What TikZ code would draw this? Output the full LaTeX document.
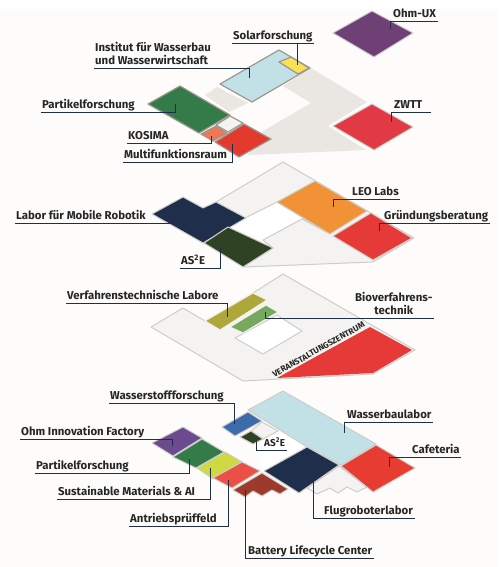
\documentclass[tikz,border=0pt]{standalone}
\usepackage{fontspec}
\setmainfont{Fira Sans}
\definecolor{paper}{HTML}{FDFCFB}
\definecolor{floorc}{HTML}{F5F3F1}
\definecolor{hatchc}{HTML}{EAE6E1}
\definecolor{edgec}{HTML}{CFCDCA}
\definecolor{stonec}{HTML}{9C9890}
\definecolor{navyc}{HTML}{1F2E4B}
\definecolor{icec}{HTML}{C2E1E6}
\definecolor{mossc}{HTML}{2F4324}
\definecolor{redc}{HTML}{E63A39}
\definecolor{plumc}{HTML}{6F4076}
\definecolor{zwttc}{HTML}{E23A45}
\definecolor{sunc}{HTML}{FBE05A}
\definecolor{forestc}{HTML}{357B49}
\definecolor{salmonc}{HTML}{EE7755}
\definecolor{brickc}{HTML}{E23B2E}
\definecolor{orangec}{HTML}{F29237}
\definecolor{olivec}{HTML}{ADA73C}
\definecolor{leafc}{HTML}{76A95D}
\definecolor{bluec}{HTML}{3B6BA8}
\definecolor{cafec}{HTML}{E63C31}
\definecolor{violetc}{HTML}{6B4B8E}
\definecolor{limec}{HTML}{CFD944}
\definecolor{coralc}{HTML}{EC4F45}
\definecolor{rustc}{HTML}{9E3A2C}
\tikzset{
  room/.style={draw=edgec,line width=1pt,line join=round},
  roomold/.style={draw=stonec,line width=1.2pt,line join=round},
  lab/.style={font=\fontsize{11.4}{13}\selectfont\bfseries,text=black!85,inner ysep=0pt,inner xsep=1.5pt,text height=8pt,text depth=3.5pt,anchor=south west},
  leader/.style={draw=navyc,line width=0.8pt}
}
\begin{document}
\begin{tikzpicture}[x=1pt,y=-1pt]
\useasboundingbox (0,0) rectangle (498,567);
\fill[paper] (0,9) rectangle (498,567);

\fill[hatchc] (283,86) -- (311,68) -- (367,102) -- (328,126) -- (366,150) -- (248,155) -- (263,131) -- (311,103) -- cycle;
\fill[hatchc] (205,95) -- (217,87) -- (248,103) -- (229,112) -- cycle;
\draw[room,fill=plumc] (333,33) -- (372,11) -- (413,33) -- (374,57) -- cycle;
\draw[room,fill=zwttc] (333,126) -- (372,104) -- (413,127) -- (374,150) -- cycle;
\draw[roomold,fill=icec] (220,84) -- (279,50) -- (310,68) -- (252,102) -- cycle;
\draw[roomold,fill=sunc] (279,62) -- (291,57) -- (309,68) -- (298,74) -- cycle;
\draw[roomold,fill=forestc] (148,104) -- (180,86) -- (230,115) -- (199,133) -- cycle;
\draw[roomold,fill=floorc] (216,125) -- (230,116) -- (243,123) -- (228,132) -- cycle;
\draw[roomold,fill=salmonc] (201,134) -- (216,126) -- (227,133) -- (213,141) -- cycle;
\draw[roomold,fill=brickc] (215,142) -- (244,124) -- (271,139) -- (239,157) -- cycle;

\fill[white] (245,218) -- (277,202) -- (302,219) -- (263,240) -- (235,227) -- cycle;
\draw[room,fill=floorc] (283,162) -- (414,238) -- (373,262) -- (243,267) -- (273,248) -- (263,240) -- (302,219) -- (330,234) -- (277,202) -- (245,218) -- (216,202) -- cycle;
\draw[room,fill=navyc] (152,214) -- (183,197) -- (203,208) -- (216,202) -- (246,218) -- (203,243) -- cycle;
\draw[room,fill=mossc] (204,243) -- (228,227) -- (273,248) -- (243,267) -- cycle;
\draw[room,fill=orangec] (277,202) -- (315,181) -- (367,211) -- (330,234) -- cycle;
\draw[room,fill=redc] (333,236) -- (371,213) -- (412,238) -- (373,260) -- cycle;

\draw[room,fill=floorc] (283,274) -- (415,350) -- (373,374) -- (243,381) -- (151,327) -- (183,308) -- (205,321) -- (253,293) -- cycle;
\draw[room,fill=white] (277,315) -- (302,331) -- (263,354) -- (235,338) -- cycle;
\draw[draw=floorc,line width=1pt,fill=olivec] (205,321) -- (253,293) -- (267,300) -- (220,330) -- cycle;
\draw[draw=floorc,line width=1pt,fill=leafc] (230,327) -- (266,305) -- (278,312) -- (243,333) -- cycle;
\fill[redc] (277,378) -- (370,327) -- (412,350) -- (373,373) -- cycle;
\node[font=\fontsize{8.4}{9}\selectfont\bfseries,text=black!85,inner sep=0pt,rotate=29.2] (zentrum) at (318.5,349.5) {VERANSTALTUNGSZENTRUM};

\fill[white] (278,430) -- (307,447) -- (264,471) -- (253,444) -- cycle;
\draw[room,fill=icec] (248,410) -- (283,391) -- (376,444) -- (341,465) -- (307,447) -- cycle;
\draw[room,fill=floorc] (339,466) -- (367,487) -- (357,492) -- (347,487) -- (338,493) -- (330,488) -- (317,494) -- (307,488) -- cycle;
\draw[room,fill=navyc] (264,471) -- (307,447) -- (339,465) -- (299,493) -- cycle;
\draw[room,fill=bluec] (222,427) -- (248,412) -- (262,421) -- (235,436) -- cycle;
\draw[room,fill=floorc] (251,431) -- (262,422) -- (278,431) -- (263,439) -- cycle;
\draw[room,fill=mossc] (240,437) -- (251,431) -- (263,439) -- (253,444) -- cycle;
\draw[room,fill=cafec] (341,466) -- (376,445) -- (415,468) -- (373,492) -- cycle;
\draw[room,fill=violetc] (152,443) -- (183,427) -- (202,438) -- (173,456) -- cycle;
\draw[room,fill=forestc] (173,457) -- (202,439) -- (224,452) -- (196,468) -- cycle;
\draw[room,fill=limec] (197,468) -- (225,452) -- (242,462) -- (213,479) -- cycle;
\draw[room,fill=coralc] (213,478) -- (242,462) -- (260,471) -- (232,488) -- cycle;
\draw[room,fill=rustc] (233,490) -- (262,473) -- (288,489) -- (280,494) -- (272,490) -- (262,496) -- (253,491) -- (245,497) -- cycle;

\node[lab] (ohmux) at (391.5,21) {Ohm-UX};
\coordinate (ohmux end) at (390,29);
\draw[leader] (ohmux end) |- (ohmux.south east);
\node[lab] (solar) at (231.5,43) {Solarforschung};
\coordinate (solar end) at (297,65);
\draw[leader] (solar end) |- (solar.south east);
\draw[leader] (solar end) |- (solar.south west);
\node[lab,align=left] (wasserbau) at (93.5,68) {Institut für Wasserbau\\und Wasserwirtschaft};
\coordinate (wasserbau end) at (249,78);
\draw[leader] (wasserbau end) |- (wasserbau.south west);
\node[lab] (partikel) at (40.5,112) {Partikelforschung};
\coordinate (partikel end) at (175,104);
\draw[leader] (partikel end) |- (partikel.south west);
\node[lab] (kosima) at (126.5,143) {KOSIMA};
\coordinate (kosima end) at (211,136);
\draw[leader] (kosima end) |- (kosima.south west);
\node[lab] (multi) at (122.5,162) {Multifunktionsraum};
\coordinate (multi end) at (232,144);
\draw[leader] (multi end) |- (multi.south west);
\node[lab] (zwtt) at (392.5,112) {ZWTT};
\coordinate (zwtt end) at (391,122);
\coordinate (zwtt far) at (431,112);
\draw[leader] (zwtt end) |- (zwtt far);

\node[lab] (leo) at (350.5,199) {LEO Labs};
\coordinate (leo end) at (333,207);
\draw[leader] (leo end) |- (leo.south east);
\node[lab] (gruendung) at (382.5,223) {Gründungsberatung};
\coordinate (gruendung end) at (379,231);
\draw[leader] (gruendung end) |- (gruendung.south east);
\node[lab] (mobile) at (14.5,223) {Labor für Mobile Robotik};
\coordinate (mobile end) at (182,223);
\draw[leader] (mobile end) -- (mobile.south west);
\node[lab] (ase) at (179.5,268) {AS\textsuperscript{2}E};
\coordinate (ase end) at (220,247);
\draw[leader] (ase end) |- (ase.south west);

\node[lab] (verfahren) at (65.5,303) {Verfahrenstechnische Labore};
\coordinate (verfahren end) at (227,317);
\draw[leader] (verfahren end) |- (verfahren.south west);
\node[lab,align=center] (bio) at (353.5,318) {Bioverfahrens-\\technik};
\coordinate (bio end) at (265,312);
\draw[leader] (bio end) |- (bio.south east);

\node[lab] (wasserstoff) at (108.5,403) {Wasserstoffforschung};
\coordinate (wasserstoff end) at (234,424);
\draw[leader] (wasserstoff end) |- (wasserstoff.south west);
\node[lab] (factory) at (19.5,439) {Ohm Innovation Factory};
\coordinate (factory end) at (172,446);
\draw[leader] (factory end) |- (factory.south west);
\node[lab] (partikelb) at (34.5,473.5) {Partikelforschung};
\coordinate (partikelb end) at (189,459);
\draw[leader] (partikelb end) |- (partikelb.south west);
\node[lab] (material) at (56.5,499) {Sustainable Materials \& AI};
\coordinate (material end) at (210,468);
\draw[leader] (material end) |- (material.south west);
\node[lab] (antrieb) at (128.5,526) {Antriebsprüffeld};
\coordinate (antrieb end) at (228,480);
\draw[leader] (antrieb end) |- (antrieb.south west);
\node[lab] (battery) at (246.5,558) {Battery Lifecycle Center};
\coordinate (battery end) at (245,490);
\draw[leader] (battery end) |- (battery.south east);
\node[lab] (flug) at (322.5,518) {Flugroboterlabor};
\coordinate (flug end) at (313,475);
\draw[leader] (flug end) |- (flug.south east);
\node[lab] (cafeteria) at (410.5,457) {Cafeteria};
\coordinate (cafeteria end) at (389,467);
\draw[leader] (cafeteria end) |- (cafeteria.south east);
\node[lab] (wasserlabor) at (345.5,422) {Wasserbaulabor};
\coordinate (wasserlabor end) at (344,433);
\draw[leader] (wasserlabor end) |- (wasserlabor.south east);
\node[lab,font=\fontsize{10}{12}\selectfont\bfseries] (asesmall) at (262.5,450) {AS\textsuperscript{2}E};
\coordinate (asesmall end) at (256,441);
\draw[leader] (asesmall end) |- (asesmall.south east);
\end{tikzpicture}
\end{document}
